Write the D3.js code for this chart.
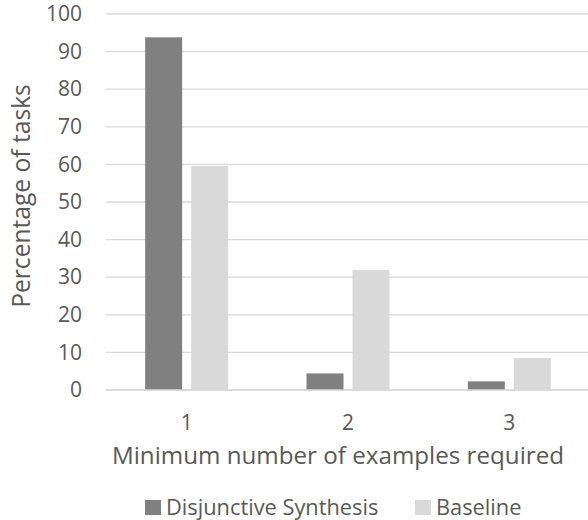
<!DOCTYPE html>
<html><head><meta charset="utf-8">
<script src="https://cdn.jsdelivr.net/npm/d3@7"></script>
<style>body{margin:0;background:#fff}</style>
</head><body>
<svg id="c" width="588" height="520"></svg>
<script>
const categories = ["1", "2", "3"];
const seriesNames = ["Disjunctive Synthesis", "Baseline"];
const disjunctive = [93.8, 4.4, 2.3];
const baseline = [59.6, 31.9, 8.5];
const yTicks = [0, 10, 20, 30, 40, 50, 60, 70, 80, 90, 100];
const colors = ["#808080", "#d9d9d9"];

const svg = d3.select("#c");
const font = "'Open Sans', sans-serif";
const textColor = "#595959";
const x0 = 106, x1 = 590, yTop = 14, yBot = 390;

const x = d3.scaleBand().domain(categories).range([x0, x1]);
const xs = d3.scaleBand().domain(seriesNames).range([0, x.bandwidth()]).paddingOuter(0.852).paddingInner(0.196);
const y = d3.scaleLinear().domain([0, 100]).range([yBot, yTop]);

// gridlines
svg.append("g").selectAll("line").data(yTicks).join("line")
  .attr("x1", x0).attr("x2", 588)
  .attr("y1", d => y(d)).attr("y2", d => y(d))
  .attr("stroke", "#d9d9d9").attr("stroke-width", 1.3);

// y axis labels
const yAxis = d3.axisLeft(y).tickValues(yTicks).tickSize(0).tickPadding(0);
const gy = svg.append("g").attr("transform", `translate(82,0)`).call(yAxis);
gy.select(".domain").remove();
gy.selectAll("text").attr("font-family", font).attr("font-size", 21).attr("fill", textColor);

// bars
const data = categories.map((c, i) => ({c, vals: [disjunctive[i], baseline[i]]}));
const g = svg.append("g").selectAll("g").data(data).join("g")
  .attr("transform", d => `translate(${x(d.c)},0)`);
g.selectAll("rect").data(d => d.vals.map((v, j) => ({v, s: seriesNames[j], j})))
  .join("rect")
  .attr("x", d => xs(d.s)).attr("width", xs.bandwidth())
  .attr("y", d => y(d.v)).attr("height", d => yBot - y(d.v))
  .attr("fill", d => colors[d.j]);

// x axis line on top of bars
svg.append("line").attr("x1", x0).attr("x2", 588).attr("y1", yBot).attr("y2", yBot)
  .attr("stroke", "#d9d9d9").attr("stroke-width", 1.3);

// x axis labels
const xAxis = d3.axisBottom(x).tickSize(0).tickPadding(0);
const gx = svg.append("g").attr("transform", `translate(0,${yBot + 33})`).call(xAxis);
gx.select(".domain").remove();
gx.selectAll("text").attr("font-family", font).attr("font-size", 21).attr("fill", textColor).attr("dy", "0.35em").attr("y", 0);

// axis titles
svg.append("text").attr("x", 338).attr("y", 456).attr("dy", "0.35em").attr("text-anchor", "middle")
  .attr("font-family", font).attr("font-size", 24.2).attr("fill", textColor)
  .text("Minimum number of examples required");
svg.append("text").attr("transform", "translate(21,196) rotate(-90)").attr("dy", "0.35em").attr("text-anchor", "middle")
  .attr("font-family", font).attr("font-size", 24.6).attr("fill", textColor)
  .text("Percentage of tasks");

// legend
const legendX = [145, 415];
const lg = svg.append("g").selectAll("g").data(seriesNames).join("g")
  .attr("transform", (d, i) => `translate(${legendX[i]},507.5)`);
lg.append("rect").attr("x", 0).attr("y", -7.5).attr("width", 16).attr("height", 15).attr("fill", (d, i) => colors[i]);
lg.append("text").attr("x", 21).attr("dy", "0.35em").attr("font-family", font).attr("font-size", 21.8)
  .attr("fill", textColor).text(d => d);
</script>
</body></html>
